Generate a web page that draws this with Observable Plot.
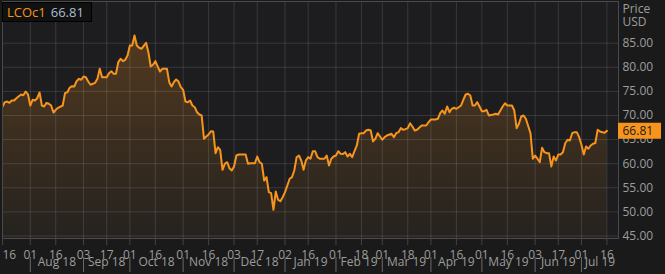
<!DOCTYPE html>
<html>
<head>
<meta charset="utf-8">
<script src="https://cdn.jsdelivr.net/npm/d3@7"></script>
<script src="https://cdn.jsdelivr.net/npm/@observablehq/plot@0.6"></script>
<style>
  html, body { margin: 0; padding: 0; background: #1a1a1a; }
  #wrap { position: relative; width: 665px; height: 274px; overflow: hidden; }
  #badge { position: absolute; left: 2px; top: 2px; width: 90px; height: 20px; box-sizing: border-box;
           background: #111112; border: 1px solid #000; font: 13px "Open Sans", sans-serif; line-height: 18px;
           padding-left: 4px; white-space: nowrap; }
  #badge .sym { color: #f7941d; }
  #badge .val { color: #a9bdd2; margin-left: 5px; }
</style>
</head>
<body>
<div id="wrap"><div id="badge"><span class="sym"></span><span class="val"></span></div></div>
<script>
// ---- data ----
const symbol = "LCOc1";
const lastPrice = 66.81;
const startDate = "2018-07-16";      // session 0
const domainEndDate = "2019-07-23";  // right edge of plot area

// trading session number (weekdays since start) and price
const sessions = [0,1,2,3,4,5,6,8,9,10,11,12,13,14,15,16,17,18,19,20,21,22,23,24,26,27,28,29,30,31,32,33,34,35,36,37,38,40,41,42,43,45,46,47,48,49,50,51,52,53,54,55,56,57,58,59,60,62,63,64,65,66,67,68,69,71,72,73,74,75,76,77,78,79,80,81,82,83,84,85,86,87,88,89,90,91,92,93,94,95,96,97,98,99,100,101,102,103,105,106,107,109,110,111,112,113,114,115,116,117,118,119,120,121,122,123,124,125,126,127,128,129,130,131,132,133,134,135,136,137,139,140,141,142,143,144,145,146,147,148,149,150,151,152,153,154,155,156,157,158,159,160,161,162,163,164,165,166,168,169,170,171,172,173,174,175,176,177,178,179,181,182,183,184,185,187,188,189,190,191,192,193,194,195,196,197,198,199,200,201,202,203,204,205,206,207,208,209,210,212,213,214,215,216,217,218,219,220,221,222,223,224,225,226,228,229,230,231,232,233,234,235,236,237,238,239,240,241,242,243,244,245,246,247,248,249,250,251,252,253,254,255,256,257,258,259,260,261];
const prices = [71.87,72.76,72.90,72.63,73.11,73.11,73.59,74.36,74.21,74.98,74.36,72.07,73.26,73.11,73.59,74.77,72.07,71.87,72.63,72.43,72.07,70.62,71.18,71.60,72.07,74.63,74.83,75.75,76.08,76.02,77.12,77.61,77.41,78.09,77.95,77.05,76.37,76.78,77.61,79.69,77.95,77.95,78.78,79.19,78.65,78.65,81.06,81.76,81.27,81.56,82.45,84.52,84.52,86.60,84.52,84.05,83.84,85.08,83.13,80.17,80.52,81.27,80.17,79.13,79.69,79.69,76.91,76.02,76.91,77.47,77.05,75.87,75.33,72.90,72.76,73.11,72.07,71.72,70.68,70.21,70.00,65.17,65.64,66.06,66.74,66.68,62.18,63.42,62.88,58.73,59.98,60.31,59.07,58.59,59.42,61.70,61.91,61.91,61.91,59.98,60.10,60.10,61.49,60.31,59.98,56.50,57.20,54.09,53.88,50.44,54.23,52.51,52.22,53.05,54.09,55.48,56.87,57.20,58.59,61.35,61.70,60.66,58.73,60.66,61.35,61.02,62.59,62.59,61.35,61.02,61.02,61.70,59.63,61.02,61.49,61.70,62.59,62.05,62.00,62.39,61.49,62.05,61.35,62.59,63.78,66.20,66.33,66.33,66.89,67.03,66.89,64.61,65.17,66.33,65.64,64.96,65.50,65.85,66.20,65.50,66.33,66.54,67.37,67.03,67.16,67.37,68.40,67.72,66.89,67.03,67.93,67.93,67.93,68.61,69.17,69.17,69.32,70.48,71.04,70.35,71.87,70.68,71.39,71.60,71.39,71.72,72.07,73.26,74.36,74.50,74.15,72.07,72.07,72.76,71.87,70.89,70.89,71.18,70.00,70.21,70.35,70.21,71.04,71.87,72.55,72.07,72.07,72.07,71.04,67.37,68.28,69.79,70.00,69.32,66.33,61.02,61.70,61.02,60.31,63.30,62.39,62.18,62.18,59.42,61.50,60.66,61.91,61.91,62.39,64.25,64.96,64.81,66.33,66.54,66.54,65.50,63.92,61.91,63.57,63.09,63.78,64.13,64.30,67.03,66.68,66.54,66.41,66.81];

const tickDates = ["2018-07-16","2018-08-01","2018-08-16","2018-09-03","2018-09-17","2018-10-01","2018-10-16","2018-11-01","2018-11-16","2018-12-03","2018-12-17","2019-01-02","2019-01-16","2019-02-01","2019-02-18","2019-03-01","2019-03-18","2019-04-01","2019-04-16","2019-05-01","2019-05-16","2019-06-03","2019-06-17","2019-07-01","2019-07-16"];
const tickLabels = ["16","01","16","03","17","01","16","01","16","03","17","02","16","01","18","01","18","01","16","01","16","03","17","01","16"];
const monthStartDates = ["2018-08-01","2018-09-03","2018-10-01","2018-11-01","2018-12-03","2019-01-02","2019-02-01","2019-03-01","2019-04-01","2019-05-01","2019-06-03","2019-07-01"];
const monthLabels = ["Aug 18","Sep 18","Oct 18","Nov 18","Dec 18","Jan 19","Feb 19","Mar 19","Apr 19","May 19","Jun 19","Jul 19"];
const yTicks = [45,50,55,60,65,70,75,80,85];
const yDomain = [44.48, 93.65];
const axisTitle = "Price\nUSD";

// ---- helpers ----
const t0 = Date.parse(startDate + "T00:00:00Z");
function tradingIndex(s) {
  const days = Math.round((Date.parse(s + "T00:00:00Z") - t0) / 864e5);
  return Math.floor(days / 7) * 5 + Math.min(days % 7, 5);
}
const data = sessions.map((s, i) => ({session: s, price: prices[i]}));
const ticks = tickDates.map((d, i) => ({x: tradingIndex(d), label: tickLabels[i]}));
const labelAt = new Map(ticks.map((t, i) => [t.x, i === 0 ? "" : t.label]));
const xEnd = tradingIndex(domainEndDate);
const months = monthStartDates.map((d, i) => ({
  start: tradingIndex(d),
  end: i + 1 < monthStartDates.length ? tradingIndex(monthStartDates[i + 1]) : xEnd,
  label: monthLabels[i]
}));

const grey = "#9d9d9d";
const orange = "#f7941d";
const gridColor = "#ffffff";

const chart = Plot.plot({
  width: 665,
  height: 274,
  marginTop: 1,
  marginBottom: 36,
  marginLeft: 2,
  marginRight: 47,
  style: {background: "transparent", fontFamily: "'Open Sans', sans-serif", fontSize: "12px", color: grey, overflow: "visible"},
  x: {domain: [0, xEnd], axis: null},
  y: {domain: yDomain, axis: null},
  marks: [
    Plot.frame({fill: "#1d1d1f", stroke: null}),
    Plot.areaY(data, {x: "session", y1: yDomain[0], y2: "price", fill: "url(#lcoFill)"}),
    Plot.gridY(yTicks, {stroke: gridColor, strokeOpacity: 0.12}),
    Plot.ruleX(ticks, {x: "x", stroke: gridColor, strokeOpacity: 0.12}),
    Plot.lineY(data, {x: "session", y: "price", stroke: orange, strokeWidth: 2, strokeLinejoin: "round", clip: true}),
    Plot.frame({stroke: "#4a4a4a"}),
    Plot.axisX(ticks.map(t => t.x), {label: null, tickSize: 7, tickPadding: 5, stroke: "#444", fill: grey, tickFormat: d => labelAt.get(d)}),
    Plot.text([ticks[0]], {x: "x", text: "label", frameAnchor: "bottom", lineAnchor: "top", dy: 12, textAnchor: "start", fill: grey}),
    Plot.ruleX(months, {x: "start", insetTop: 256, insetBottom: -34, stroke: "#6a6a6a"}),
    Plot.text(months, {x: d => (d.start + d.end) / 2, text: "label", frameAnchor: "bottom", dy: 27, fill: grey}),
    Plot.axisY(yTicks, {label: null, anchor: "right", tickSize: 0, tickPadding: 4, textAnchor: "start", fill: grey, tickFormat: d3.format(".2f")}),
    Plot.text([axisTitle], {text: d => d, frameAnchor: "top-right", textAnchor: "start", lineAnchor: "top", dx: 4, dy: 3, lineHeight: 1.03, fill: grey}),
    Plot.ruleY([lastPrice], {y: d => d, stroke: orange, strokeWidth: 16, insetLeft: 616, insetRight: -43}),
    Plot.text([lastPrice], {y: d => d, text: d => d3.format(".2f")(d), frameAnchor: "right", textAnchor: "start", dx: 4, fill: "#1b1b1b"})
  ]
});

// vertical gradient for the area fill
const svg = d3.select(chart);
const grad = svg.insert("defs", ":first-child").append("linearGradient")
  .attr("id", "lcoFill").attr("x1", 0).attr("x2", 0).attr("y1", 0).attr("y2", 1);
grad.append("stop").attr("offset", "0%").attr("stop-color", "#51391f");
grad.append("stop").attr("offset", "100%").attr("stop-color", "#25221f");

document.getElementById("wrap").prepend(chart);
document.querySelector("#badge .sym").textContent = symbol;
document.querySelector("#badge .val").textContent = d3.format(".2f")(lastPrice);
</script>
</body>
</html>
